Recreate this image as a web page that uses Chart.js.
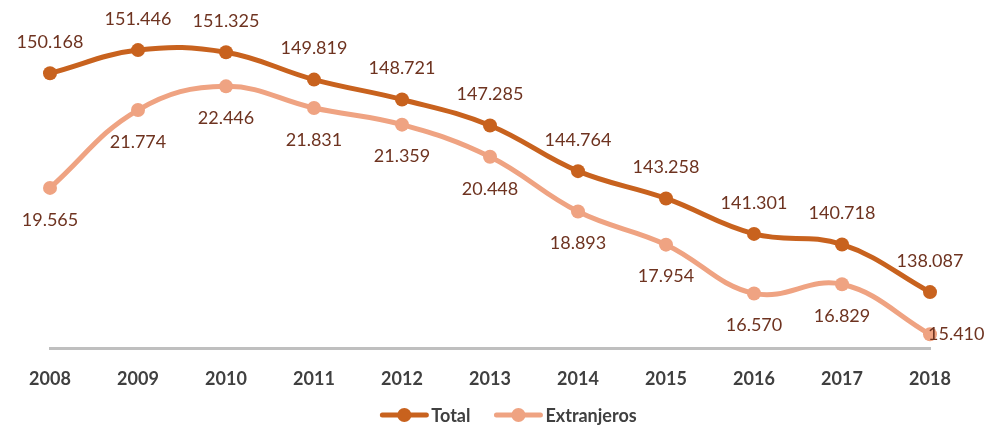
<!DOCTYPE html>
<html><head><meta charset="utf-8">
<script src="https://cdn.jsdelivr.net/npm/chart.js@4"></script>
<style>html,body{margin:0;padding:0;background:#fff}#wrap{width:987px;height:430px;position:relative}</style>
</head><body><div id="wrap"><canvas id="c"></canvas></div>
<script>
const years = ['2008','2009','2010','2011','2012','2013','2014','2015','2016','2017','2018'];
const seriesNames = ['Total','Extranjeros'];
const total = [150.168,151.446,151.325,149.819,148.721,147.285,144.764,143.258,141.301,140.718,138.087];
const extranjeros = [19.565,21.774,22.446,21.831,21.359,20.448,18.893,17.954,16.570,16.829,15.410];

const colTotal = '#C8621E';
const colExt = '#EFA382';

const labelPlugin = {
  id:'valueLabels',
  afterDatasetsDraw(chart){
    const ctx = chart.ctx;
    ctx.save();
    ctx.font = '18px Lato';
    ctx.fillStyle = '#6E3320';
    ctx.textBaseline = 'middle';
    chart.data.datasets.forEach((ds,i)=>{
      const meta = chart.getDatasetMeta(i);
      meta.data.forEach((pt,j)=>{
        const txt = ds.data[j].toFixed(3);
        let x = pt.x, y = pt.y, align = 'center';
        if (i === 0) { y -= 31; }
        else if (j === ds.data.length-1) { x -= 2; align = 'left'; }
        else { y += 32; }
        ctx.textAlign = align;
        ctx.fillText(txt, x, y);
      });
    });
    ctx.restore();
  }
};

const legendPlugin = {
  id:'lineLegend',
  afterDraw(chart){
    const ctx = chart.ctx;
    ctx.save();
    ctx.font = 'bold 18px Lato';
    ctx.textBaseline = 'middle';
    ctx.textAlign = 'left';
    const markerW = 48, markerGap = 3, itemGap = 24;
    const items = chart.data.datasets.map(ds=>({text:ds.label, color:ds.borderColor, w: ctx.measureText(ds.label).width}));
    let totalW = 0;
    items.forEach((it,k)=>{ totalW += markerW + markerGap + it.w + (k ? itemGap : 0); });
    let x = chart.width/2 + 15 - totalW/2;
    const y = 415;
    items.forEach(it=>{
      ctx.strokeStyle = it.color; ctx.lineWidth = 5; ctx.lineCap = 'round';
      ctx.beginPath(); ctx.moveTo(x+2, y); ctx.lineTo(x+markerW-2, y); ctx.stroke();
      ctx.fillStyle = it.color; ctx.beginPath(); ctx.arc(x+markerW/2, y, 7, 0, Math.PI*2); ctx.fill();
      ctx.fillStyle = '#404040';
      ctx.fillText(it.text, x+markerW+markerGap, y+1);
      x += markerW + markerGap + it.w + itemGap;
    });
    ctx.restore();
  }
};

new Chart(document.getElementById('c'), {
  type:'line',
  data:{
    labels: years,
    datasets:[
      {label: seriesNames[0], data: total, yAxisID:'y', borderColor: colTotal, backgroundColor: colTotal,
       borderWidth:5, pointRadius:7, pointHoverRadius:7, pointBackgroundColor: colTotal, pointBorderWidth:0,
       tension:0.4, pointStyle: 'circle'},
      {label: seriesNames[1], data: extranjeros, yAxisID:'y1', borderColor: colExt, backgroundColor: colExt,
       borderWidth:5, pointRadius:7, pointHoverRadius:7, pointBackgroundColor: colExt, pointBorderWidth:0,
       tension:0.4, pointStyle: 'circle'}
    ]
  },
  options:{
    responsive:true, maintainAspectRatio:false, animation:false,
    layout:{padding:{left:50, right:57, top:8, bottom:20}},
    plugins:{
      tooltip:{enabled:false},
      legend:{display:false}
    },
    scales:{
      x:{
        grid:{display:false, drawTicks:false},
        border:{display:true, color:'#BFBFBF', width:3},
        ticks:{font:{family:'Lato', size:18, weight:'bold'}, color:'#404040', padding:20, maxRotation:0, autoSkip:false}
      },
      y:{display:false, min:134.98, max:153.77},
      y1:{display:false, min:15.01, max:24.67}
    }
  },
  plugins:[labelPlugin, legendPlugin]
});
</script>
</body></html>
